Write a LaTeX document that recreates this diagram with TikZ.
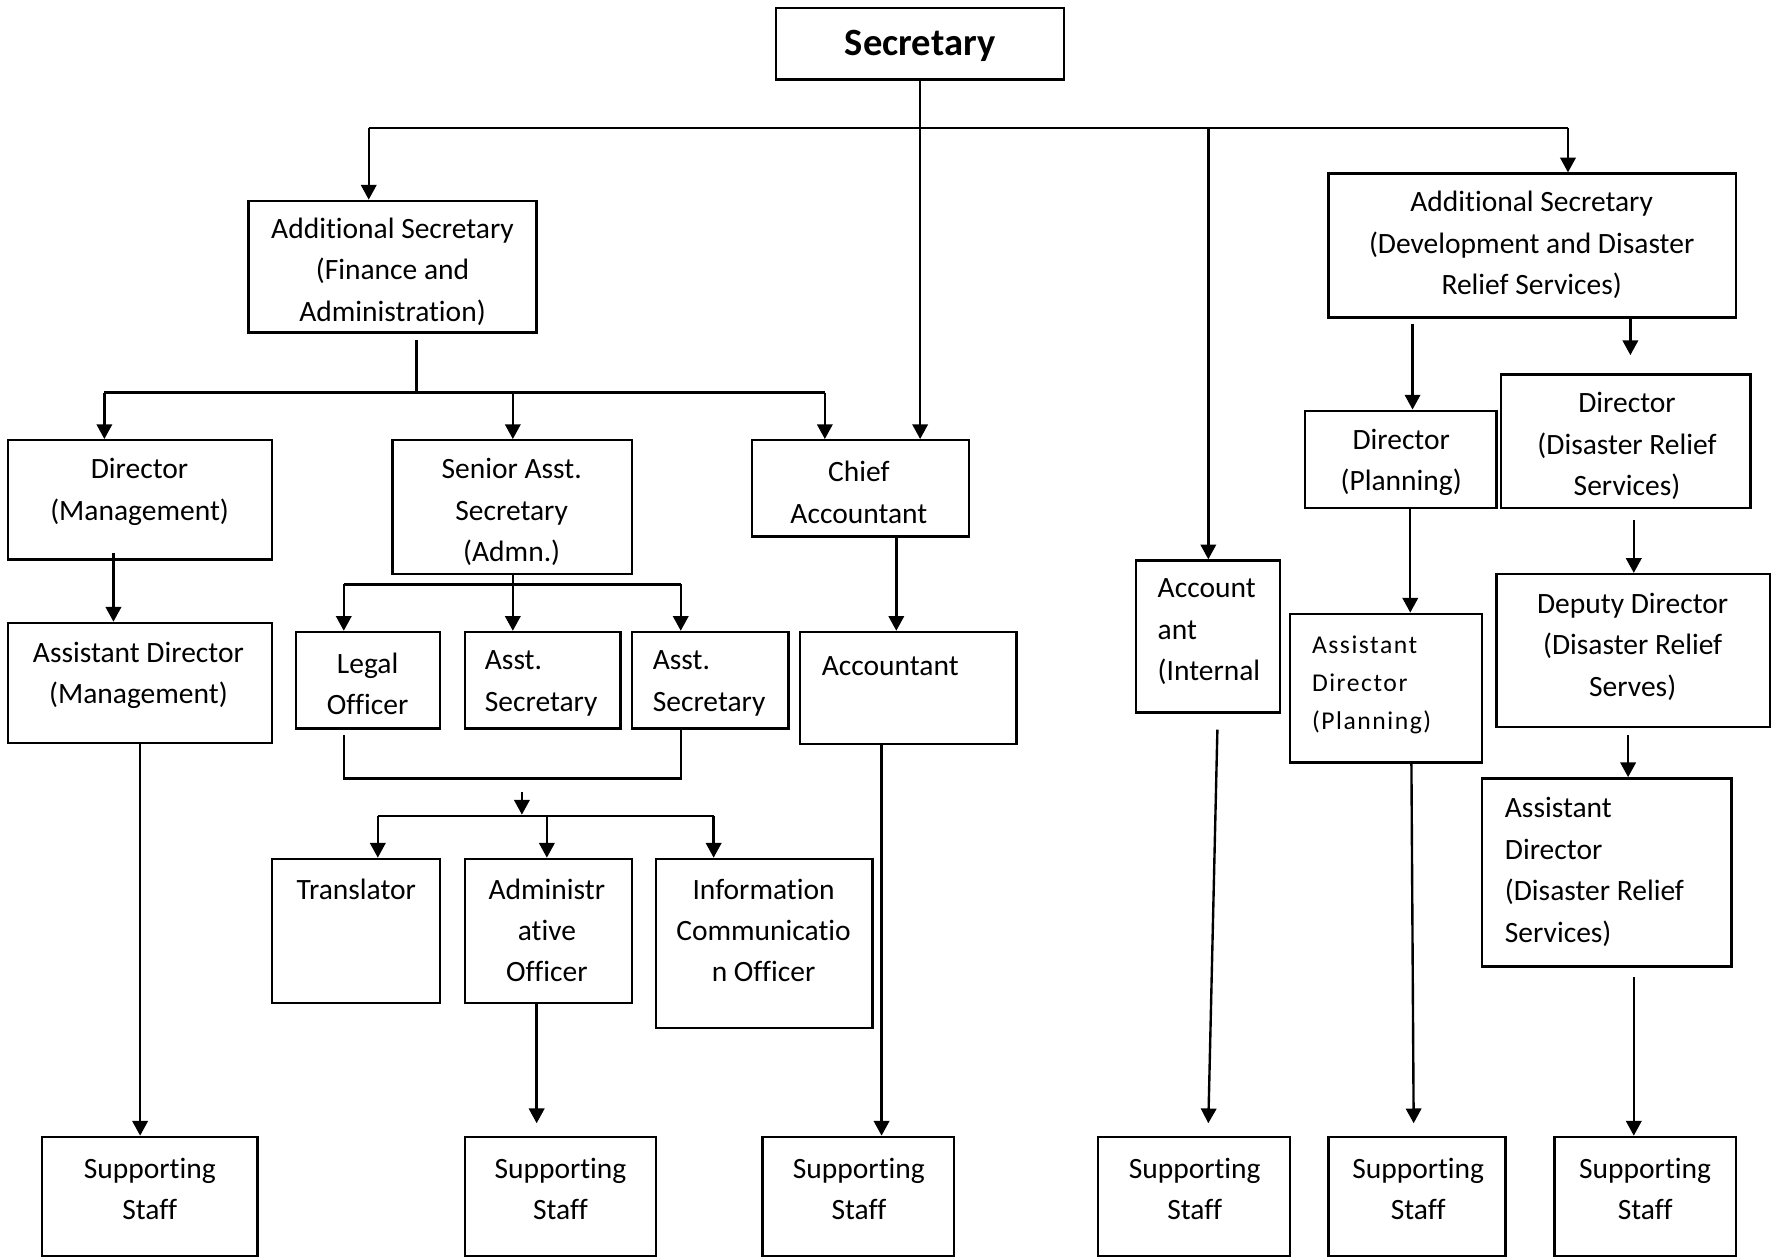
\documentclass[tikz,border=0pt]{standalone}
\usepackage{fontspec}
\setmainfont{Carlito}[Ligatures=NoCommon]
\usetikzlibrary{arrows.meta,fit}
\begin{document}
\begin{tikzpicture}[x=0.5pt,y=-0.5pt,
  box/.style={draw,line width=1.05pt,inner sep=0pt,rectangle},
  txt/.style={inner sep=0pt,align=center,yshift=-1pt,font=\fontsize{13}{18.25}\selectfont},
  ltxt/.style={inner sep=0pt,align=left,anchor=west,yshift=-1pt,font=\fontsize{13}{18.25}\selectfont},
  stxt/.style={inner sep=0pt,align=left,anchor=west,yshift=-1pt,font=\fontsize{11.3}{16.75}\selectfont\addfontfeatures{LetterSpace=6}},
  conn/.style={line width=1.05pt},
  arr/.style={line width=1.05pt,-{Triangle[length=6.5pt,width=6.8pt]}}
]
\useasboundingbox (0,0) rectangle (1568,1110);

% ---------- boxes ----------
\node[box,fit={(684,7) (938,70)}] (sec) {};
\node[box,fit={(219,177) (473,293)}] (asfa) {};
\node[box,fit={(7,388) (240,493)}] (dirm) {};
\node[box,fit={(7,549) (240,655)}] (adm) {};
\node[box,fit={(346,388) (557,506)}] (sas) {};
\node[box,fit={(261,557) (388,642)}] (legal) {};
\node[box,fit={(410,557) (547,642)}] (asec1) {};
\node[box,fit={(557,557) (695,642)}] (asec2) {};
\node[box,fit={(240,757) (388,884)}] (trans) {};
\node[box,fit={(410,757) (557,884)}] (admo) {};
\node[box,fit={(578,757) (769,906)}] (info) {};
\node[box,fit={(663,388) (854,473)}] (chief) {};
\node[box,fit={(705,557) (896,656)}] (acct) {};
\node[box,fit={(1001,494) (1128,628)}] (accint) {};
\node[box,fit={(1171,153) (1530,280)}] (asdd) {};
\node[box,fit={(1150,362) (1319,448)}] (dirp) {};
\node[box,fit={(1323,330) (1543,448)}] (dirdrs) {};
\node[box,fit={(1137,541) (1306,672)}] (adp) {};
\node[box,fit={(1319,506) (1560,641)}] (dep) {};
\node[box,fit={(1306,686) (1526,852)}] (addrs) {};
\node[box,fit={(37,1002) (227,1107)}] (ss1) {};
\node[box,fit={(410,1002) (578,1107)}] (ss2) {};
\node[box,fit={(672,1002) (841,1107)}] (ss3) {};
\node[box,fit={(968,1002) (1137,1107)}] (ss4) {};
\node[box,fit={(1171,1002) (1327,1107)}] (ss5) {};
\node[box,fit={(1370,1002) (1530,1107)}] (ss6) {};

% ---------- texts ----------
\node[inner sep=0pt,font=\fontsize{17}{20}\selectfont\bfseries] (sec-t) at (811,40) {Secretary};
\node[txt] (asfa-t) at (346,237.5) {Additional Secretary\\(Finance and\\Administration)};
\node[txt] (dirm-t) at (123,431.5) {Director\\(Management)};
\node[txt] (adm-t) at (122,593.5) {Assistant Director\\(Management)};
\node[txt] (sas-t) at (451,449.5) {Senior Asst.\\Secretary\\(Admn.)};
\node[txt] (legal-t) at (324,600.5) {Legal\\Officer};
\node[ltxt] (asec1-t) at (427,600.5) {Asst.\\Secretary};
\node[ltxt] (asec2-t) at (575,600.5) {Asst.\\Secretary};
\node[txt] (trans-t) at (314,782) {Translator};
\node[txt] (admo-t) at (482,818) {Administr\\ative\\Officer};
\node[txt] (info-t) at (673,818) {Information\\Communicatio\\n Officer};
\node[txt] (chief-t) at (757,432) {Chief\\Accountant};
\node[ltxt] (acct-t) at (724,585) {Accountant};
\node[ltxt] (accint-t) at (1020,555) {Account\\ant\\(Internal};
\node[txt] (asdd-t) at (1350,214) {Additional Secretary\\(Development and Disaster\\Relief Services)};
\node[txt] (dirp-t) at (1235,405.5) {Director\\(Planning)};
\node[txt] (dirdrs-t) at (1434,391) {Director\\(Disaster Relief\\Services)};
\node[stxt] (adp-t) at (1156,601.5) {Assistant\\Director\\(Planning)};
\node[txt] (dep-t) at (1439,568) {Deputy Director\\(Disaster Relief\\Serves)};
\node[ltxt] (addrs-t) at (1326,766.5) {Assistant\\Director\\(Disaster Relief\\Services)};
\node[txt] (ss1-t) at (132,1046) {Supporting\\Staff};
\node[txt] (ss2-t) at (494,1046) {Supporting\\Staff};
\node[txt] (ss3-t) at (757,1046) {Supporting\\Staff};
\node[txt] (ss4-t) at (1053,1046) {Supporting\\Staff};
\node[txt] (ss5-t) at (1250,1046) {Supporting\\Staff};
\node[txt] (ss6-t) at (1450,1046) {Supporting\\Staff};

% ---------- connectors ----------
% top bus
\coordinate (busL) at (325,113);
\coordinate (busM) at (1065,113);
\coordinate (busR) at (1382,113);
\draw[conn] (busL) -- (busR);
\draw[arr] (sec.south) -- (sec.south |- chief.north);
\draw[arr] (busL) -- (busL |- asfa.north);
\draw[arr] (busM) -- (busM |- accint.north);
\draw[arr] (busR) -- (busR |- asdd.north);

% finance & admin branch
\coordinate (fa1) at (367,300);
\coordinate (fa2) at (367,346);
\coordinate (faL) at (92,346);
\coordinate (faM) at (452,346);
\coordinate (faR) at (727,346);
\draw[conn] (fa1) -- (fa2);
\draw[conn] (faL) -- (faR);
\draw[arr] (faL) -- (faL |- dirm.north);
\draw[arr] (faM) -- (faM |- sas.north);
\draw[arr] (faR) -- (faR |- chief.north);

\coordinate (dm1) at (100,487);
\draw[arr] (dm1) -- (dm1 |- adm.north);
\draw[arr] (adm.south) -- (adm.south |- ss1.north);

% senior asst. secretary branch
\coordinate (saL) at (303,515);
\coordinate (saM) at (452,515);
\coordinate (saR) at (600,515);
\draw[conn] (saM |- sas.south) -- (saM);
\draw[conn] (saL) -- (saR);
\draw[arr] (saL) -- (saL |- legal.north);
\draw[arr] (saM) -- (saM |- asec1.north);
\draw[arr] (saR) -- (saR |- asec2.north);

\coordinate (brL) at (303,648);
\coordinate (brR) at (600,686);
\draw[conn] (brL) |- (brR) -- (brR |- asec2.south);

\coordinate (sm1) at (460,698);
\coordinate (sm2) at (460,718);
\draw[arr] (sm1) -- (sm2);
\coordinate (ofL) at (333,719);
\coordinate (ofM) at (482,719);
\coordinate (ofR) at (629,719);
\draw[conn] (ofL) -- (ofR);
\draw[arr] (ofL) -- (ofL |- trans.north);
\draw[arr] (ofM) -- (ofM |- admo.north);
\draw[arr] (ofR) -- (ofR |- info.north);

\coordinate (ao1) at (473,884);
\coordinate (ao2) at (473,990);
\draw[arr] (ao1) -- (ao2);

% accounts
\coordinate (ch1) at (790,473);
\draw[arr] (ch1) -- (ch1 |- acct.north);
\coordinate (ac1) at (777,656);
\draw[arr] (ac1) -- (ac1 |- ss3.north);
\coordinate (ai1) at (1073,643);
\coordinate (ai2) at (1065,990);
\draw[arr] (ai1) -- (ai2);

% development & disaster relief branch
\coordinate (dd1) at (1245,286);
\draw[arr] (dd1) -- (dd1 |- dirp.north);
\coordinate (dd2) at (1437,280);
\coordinate (dd3) at (1437,313);
\draw[arr] (dd2) -- (dd3);
\coordinate (dp1) at (1243,448);
\draw[arr] (dp1) -- (dp1 |- adp.north);
\coordinate (dr1) at (1440,458);
\draw[arr] (dr1) -- (dr1 |- dep.north);
\coordinate (ap1) at (1244,672);
\coordinate (ap2) at (1246,990);
\draw[arr] (ap1) -- (ap2);
\coordinate (de1) at (1435,648);
\draw[arr] (de1) -- (de1 |- addrs.north);
\coordinate (ad1) at (1440,861);
\draw[arr] (ad1) -- (ad1 |- ss6.north);
\end{tikzpicture}
\end{document}
